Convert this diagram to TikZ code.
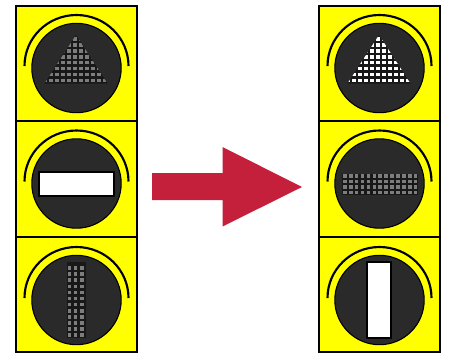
\documentclass[tikz,border=0pt]{standalone}
\definecolor{panelyellow}{RGB}{255,255,0}
\definecolor{lampdark}{RGB}{42,42,42}
\definecolor{ledback}{RGB}{24,24,24}
\definecolor{dimdot}{RGB}{125,125,125}
\definecolor{arrowred}{RGB}{196,31,59}
\tikzset{
  panelbox/.style={fill=panelyellow,draw=black,line width=1.5pt},
  hood/.style={draw=black,line width=1.6pt},
  lamp/.style={fill=lampdark,draw=black,line width=0.8pt},
  dimled/.style={fill=dimdot},
  litled/.style={fill=white},
  lit/.style={fill=white,draw=black,line width=1.5pt},
  bigarrow/.style={fill=arrowred},
  pics/cell/.style={code={
    \draw[hood] (-52,-2) arc[start angle=180,end angle=360,x radius=52,y radius=51];
    \filldraw[lamp] (0,0) circle[radius=44.7];
  }}
}
\newcommand{\leds}[7]{% style, x0, y0, nx, ny, dx, dy
  \foreach \i in {1,...,#4}{\foreach \j in {1,...,#5}{
    \fill[#1] ({#2+(\i-1)*#6-1.8},{#3+(\j-1)*#7-1.8}) rectangle ++(3.6,3.6);
  }}}
\newcommand{\triled}[3]{% style, cx, cy
  \begin{scope}
    \clip (#2-0.5,#3-33) -- (#2+31,#3+15.5) -- (#2-32,#3+15.5) -- cycle;
    \fill[ledback] (#2-40,#3-40) rectangle (#2+40,#3+20);
    \leds{#1}{#2-31.5}{#3-29}{11}{8}{6}{5.9}
  \end{scope}}
\begin{document}
\begin{tikzpicture}[x=0.75pt,y=-0.75pt]
\useasboundingbox (0,0) rectangle (452,361);
% left panel
\draw[panelbox] (16,6) rectangle (136.5,121);
\draw[panelbox] (16,121) rectangle (136.5,237);
\draw[panelbox] (16,237) rectangle (136.5,352);
\pic at (76.5,68) {cell};
\pic at (76.5,183.5) {cell};
\pic at (76.5,300) {cell};
\triled{dimled}{76.5}{68}
\draw[lit] (39,172) rectangle (114,195.5);
\fill[ledback] (66.5,262) rectangle (85.5,338);
\leds{dimled}{69.4}{268}{3}{12}{6.15}{6.1}
% right panel
\draw[panelbox] (319,6) rectangle (439.5,121);
\draw[panelbox] (319,121) rectangle (439.5,237);
\draw[panelbox] (319,237) rectangle (439.5,352);
\pic at (379.5,68) {cell};
\pic at (379.5,183.5) {cell};
\pic at (379.5,300) {cell};
\triled{litled}{379.5}{68}
\fill[ledback] (342,173.5) rectangle (418,194.5);
\leds{dimled}{344.8}{175.8}{13}{4}{5.9}{5.5}
\draw[lit] (367,262) rectangle (391,337.5);
% arrow
\fill[bigarrow] (152,173) -- (222.5,173) -- (222.5,147) -- (302,187) -- (222.5,226.5) -- (222.5,200) -- (152,200) -- cycle;
\end{tikzpicture}
\end{document}
